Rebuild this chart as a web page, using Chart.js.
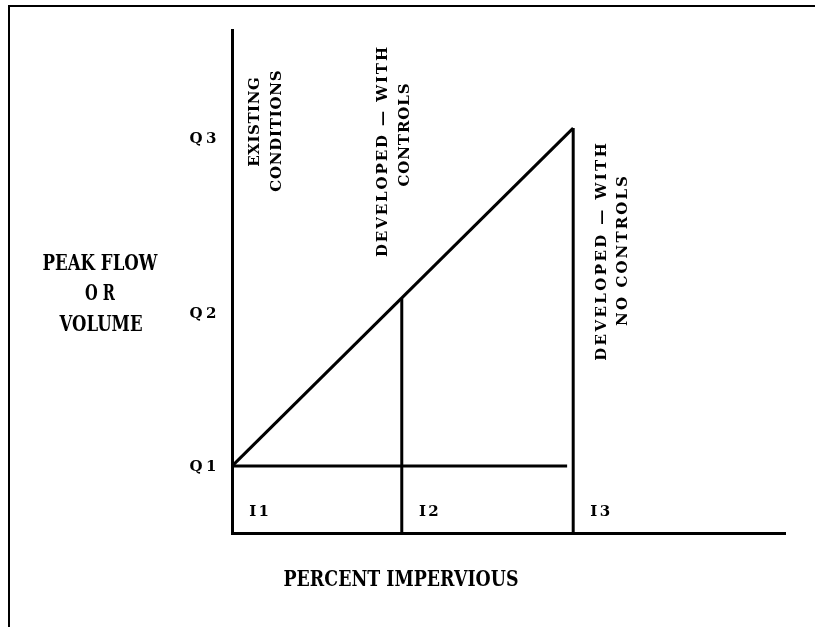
<!DOCTYPE html>
<html><head><meta charset="utf-8">
<script src="https://cdn.jsdelivr.net/npm/chart.js@4/dist/chart.umd.min.js"></script>
<style>
html,body{margin:0;padding:0;background:#fff;}
#wrap{position:relative;width:815px;height:627px;overflow:hidden;}
#frame{position:absolute;left:8px;top:5px;width:820px;height:640px;border-left:2px solid #000;border-top:2px solid #000;pointer-events:none;}
canvas{position:absolute;left:0;top:0;}
</style></head>
<body><div id="wrap"><canvas id="c" width="815" height="627"></canvas><div id="frame"></div></div>
<script>
// ---- data ----
const imperviousLabels = ['I1', 'I2', 'I3'];
const imperviousValues = [0, 30.7, 61.7];
const flowLabels = ['Q1', 'Q2', 'Q3'];
const flowValues = [13.3, 46.7, 80.5];
const q1LineEnd = 60.6;
const conditionLabels = [
  ['EXISTING', 'CONDITIONS'],
  ['DEVELOPED \u2014 WITH', 'CONTROLS'],
  ['DEVELOPED \u2014 WITH', 'NO CONTROLS']
];
const yTitle = ['PEAK FLOW', 'O R', 'VOLUME'];
const xTitle = 'PERCENT IMPERVIOUS';

// ---- line segments built from data ----
const segs = [
  [{x: imperviousValues[0], y: flowValues[0]}, {x: imperviousValues[2], y: flowValues[2]}],
  [{x: imperviousValues[0], y: flowValues[0]}, {x: q1LineEnd, y: flowValues[0]}],
  [{x: imperviousValues[1], y: 0}, {x: imperviousValues[1], y: flowValues[1]}],
  [{x: imperviousValues[2], y: 0}, {x: imperviousValues[2], y: flowValues[2]}]
];

// layout: pixel offsets from the I-position, centre y, target length
const condLayout = [
  [{dx: 23, y: 122, len: 90}, {dx: 45, y: 131, len: 122}],
  [{dx: -19, y: 152, len: 212}, {dx: 3, y: 135, len: 104}],
  [{dx: 29, y: 252, len: 220}, {dx: 50, y: 251, len: 152}]
];
const qNudge = [1, 16, 11];
const yTitleLayout = [{x: 100, y: 264, w: 115}, {x: 100, y: 294, w: 30}, {x: 101, y: 325, w: 83}];
const xTitleLayout = {x: 401, y: 580, w: 235};

const serifFont = 'bold 15px "DejaVu Serif", "Liberation Serif", serif';
const westFont = 'bold 22px "DejaVu Serif", "Liberation Serif", serif';

function fitText(ctx, t, x, y, len) {
  ctx.letterSpacing = '0px';
  const w = ctx.measureText(t).width;
  const ls = Math.max(0, (len - w) / t.length);
  ctx.letterSpacing = ls.toFixed(2) + 'px';
  ctx.fillText(t, x + ls / 2, y);
  ctx.letterSpacing = '0px';
}
function squeezeText(ctx, t, x, y, len) {
  const w = ctx.measureText(t).width;
  ctx.save();
  ctx.translate(x, y);
  ctx.scale(Math.min(1, len / w), 1);
  ctx.fillText(t, 0, 0);
  ctx.restore();
}

const textPlugin = {
  id: 'texts',
  afterDraw(chart) {
    const ctx = chart.ctx;
    const xs = chart.scales.x, ys = chart.scales.y;
    ctx.save();
    ctx.fillStyle = '#000';
    ctx.textBaseline = 'middle';
    ctx.textAlign = 'center';
    ctx.font = 'bold 15px "DejaVu Serif", serif';
    flowLabels.forEach((t, i) => {
      fitText(ctx, t, xs.left - 29, ys.getPixelForValue(flowValues[i]) + qNudge[i], 30);
    });
    imperviousLabels.forEach((t, i) => {
      fitText(ctx, t, xs.getPixelForValue(imperviousValues[i]) + 27, ys.bottom - 21, 22);
    });
    ctx.font = serifFont;
    conditionLabels.forEach((lines, g) => {
      lines.forEach((t, k) => {
        const L = condLayout[g][k];
        ctx.save();
        ctx.translate(xs.getPixelForValue(imperviousValues[g]) + L.dx, L.y);
        ctx.rotate(-Math.PI / 2);
        fitText(ctx, t, 0, 0, L.len);
        ctx.restore();
      });
    });
    ctx.font = westFont;
    yTitle.forEach((t, i) => squeezeText(ctx, t, yTitleLayout[i].x, yTitleLayout[i].y, yTitleLayout[i].w));
    squeezeText(ctx, xTitle, xTitleLayout.x, xTitleLayout.y, xTitleLayout.w);
    ctx.restore();
  }
};

new Chart(document.getElementById('c'), {
  type: 'scatter',
  data: {
    datasets: segs.map(s => ({
      data: s, showLine: true, borderColor: '#000', borderWidth: 3,
      pointRadius: 0, pointHoverRadius: 0, fill: false, tension: 0, clip: false,
      borderCapStyle: 'butt'
    }))
  },
  options: {
    responsive: false,
    animation: false,
    events: [],
    layout: { padding: { left: 212, top: 30, right: 30, bottom: 74 } },
    plugins: { legend: { display: false }, tooltip: { enabled: false } },
    scales: {
      x: {
        type: 'linear', min: 0, max: 100,
        grid: { display: false, drawTicks: false },
        border: { display: true, color: '#000', width: 3 },
        ticks: { display: false },
        afterFit(s) { s.height = 20; }
      },
      y: {
        type: 'linear', min: 0, max: 100,
        grid: { display: false, drawTicks: false },
        border: { display: true, color: '#000', width: 3 },
        ticks: { display: false },
        afterFit(s) { s.width = 20; }
      }
    }
  },
  plugins: [textPlugin]
});
</script>
</body></html>
